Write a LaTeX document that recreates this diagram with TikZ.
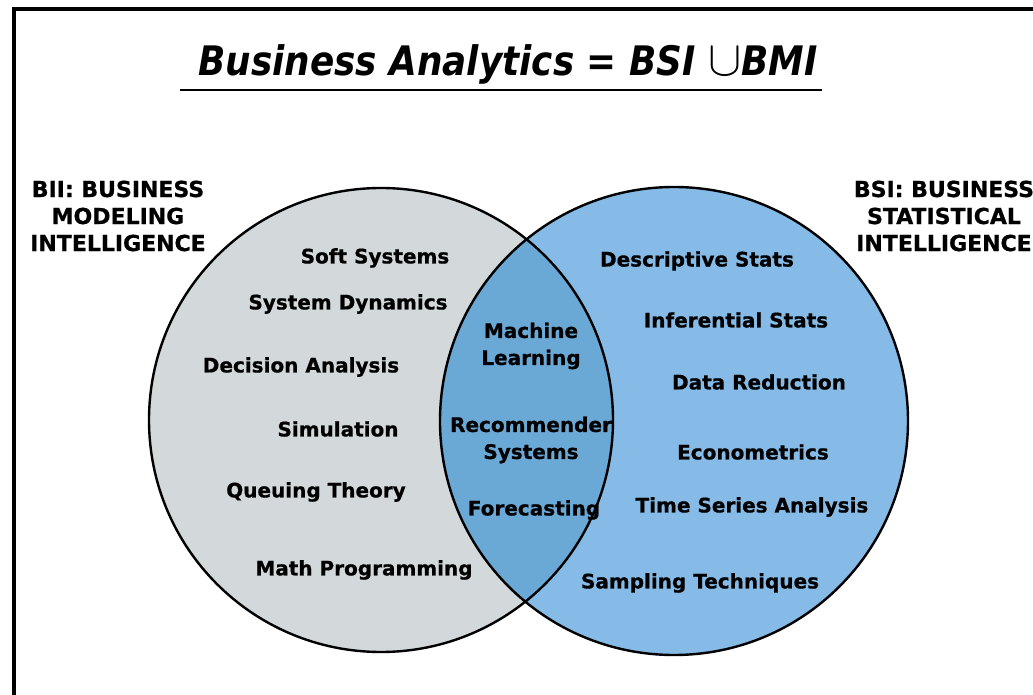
\documentclass[tikz,border=0pt]{standalone}
\usepackage{fontspec}
\setmainfont[BoldFeatures={FakeBold=0.7}]{DejaVu Sans}
\newfontfamily\titlefont[FakeStretch=0.88,BoldFeatures={FakeBold=1}]{DejaVu Sans}
\usetikzlibrary{positioning}
\definecolor{venn-grey}{RGB}{211,216,218}
\definecolor{venn-blue}{RGB}{133,187,230}
\definecolor{venn-mid}{RGB}{106,168,213}

\begin{document}
\begin{tikzpicture}[x=0.75pt,y=-0.75pt,
		item/.style={font=\bfseries\fontsize{15}{20.25}\selectfont,align=center,inner sep=0pt},
		side/.style={font=\bfseries\fontsize{16.5}{20.25}\selectfont,align=center,inner sep=0pt}]
	\useasboundingbox (0,0) rectangle (1033,695);

	% Frame (only the left and top sides show)
	\draw[line width=2.4pt] (14,710) -- (14,9) -- (1050,9);

	% Title with underline
	\node[inner sep=0pt] (title) at (508,64) {\titlefont\bfseries\itshape\fontsize{30.5}{36}\selectfont Business Analytics = BSI \raisebox{-0.5pt}{\scalebox{1.5}{$\cup$}}BMI};
	\draw[line width=2.2pt] (180,90) -- (822,90);

	% The two sets
	\fill[venn-grey] (381,420) circle (232);
	\fill[venn-blue] (674,421) circle (234);
	\begin{scope}
		\clip (381,420) circle (232);
		\fill[venn-mid] (674,421) circle (234);
	\end{scope}
	\draw[line width=1.8pt] (381,420) circle (232);
	\draw[line width=1.8pt] (674,421) circle (234);

	% Set labels
	\node[side] (bii) at (118,216) {BII: BUSINESS\\MODELING\\INTELLIGENCE};
	\node[side] (bsi) at (944,216) {BSI: BUSINESS\\STATISTICAL\\INTELLIGENCE};

	% Modeling side
	\node[item] (soft) at (375,258) {Soft Systems};
	\node[item] (sysdyn) at (348,304) {System Dynamics};
	\node[item] (decision) at (301,367) {Decision Analysis};
	\node[item] (sim) at (338,429) {Simulation};
	\node[item] (queue) at (316,492) {Queuing Theory};
	\node[item] (mathprog) at (364,570) {Math Programming};

	% Overlap
	\node[item] (ml) at (531,346) {Machine\\Learning};
	\node[item] (recsys) at (531,440) {Recommender\\Systems};
	\node[item] (forecast) at (534,510) {Forecasting};

	% Statistical side
	\node[item] (descr) at (697,261) {Descriptive Stats};
	\node[item] (infer) at (736,320) {Inferential Stats};
	\node[item] (reduce) at (759,382) {Data Reduction};
	\node[item] (econ) at (753,452) {Econometrics};
	\node[item] (tsa) at (752,507) {Time Series Analysis};
	\node[item] (sampling) at (700,583) {Sampling Techniques};
\end{tikzpicture}
\end{document}
